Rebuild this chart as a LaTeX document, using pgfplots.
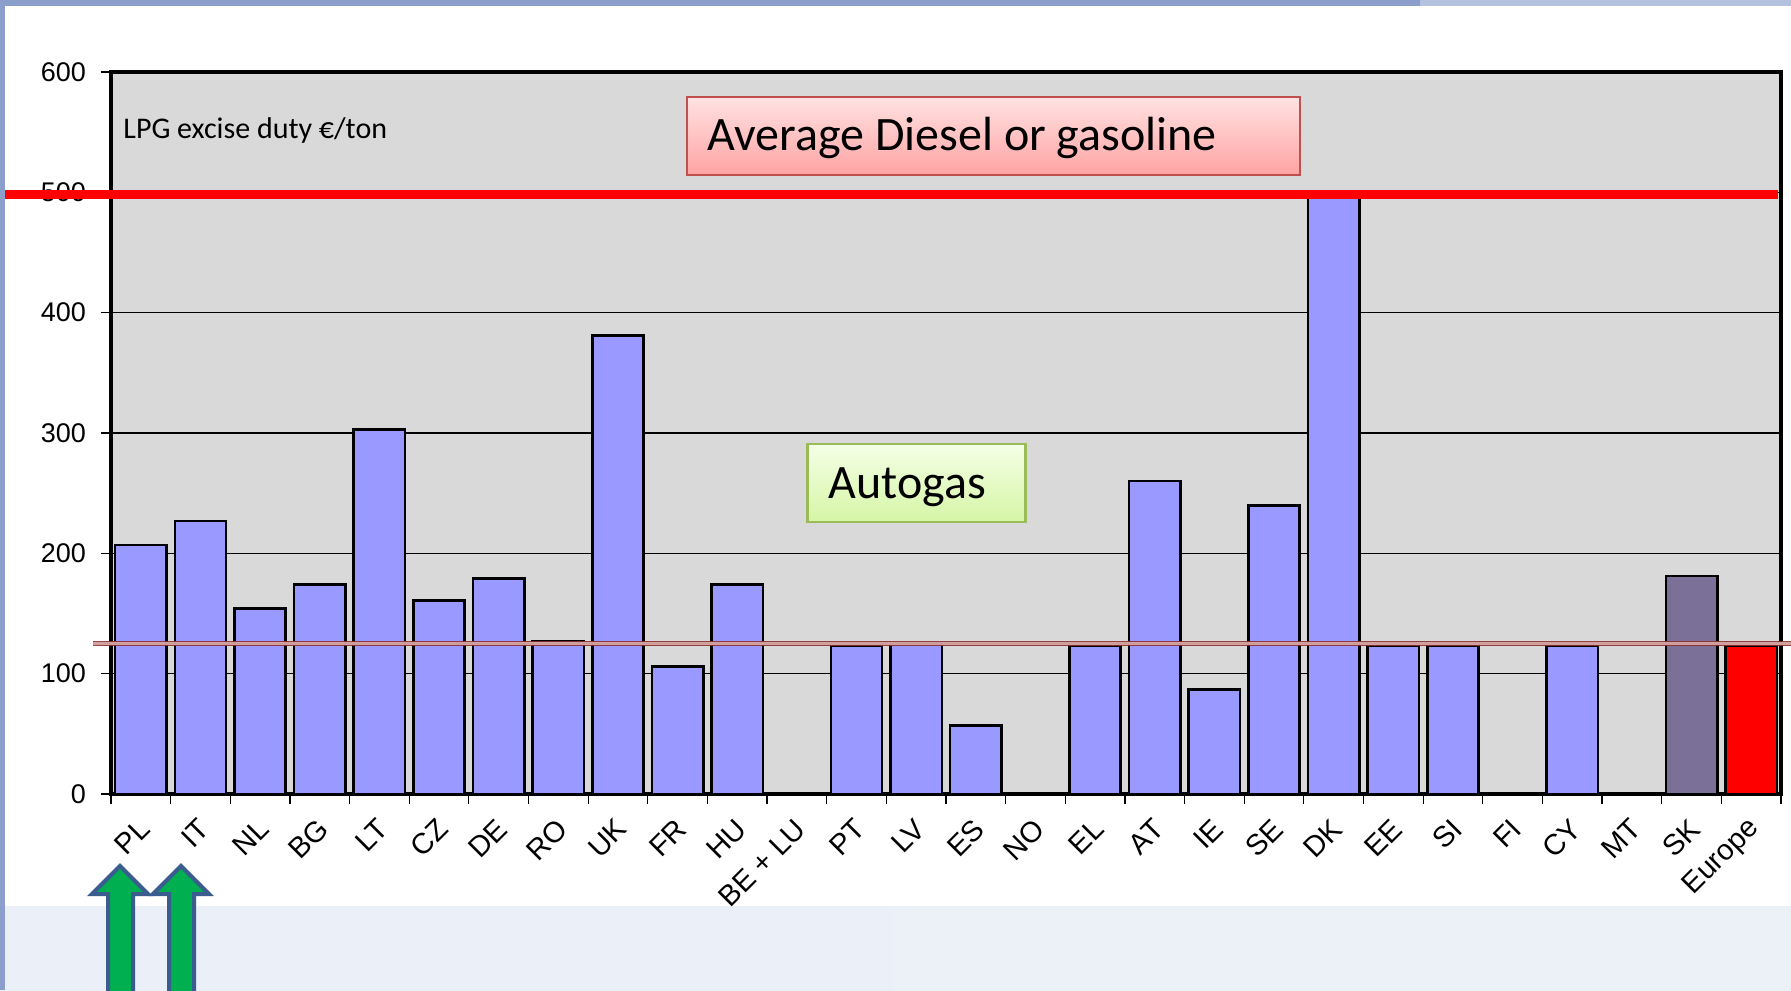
\documentclass[border=0pt]{standalone}
\usepackage{fontspec}
\setmainfont{Liberation Sans}
\newfontfamily\calibri{Carlito}
\usepackage{pgfplots}
\pgfplotsset{compat=1.18}
\usepackage{pgfplotstable}
\definecolor{barblue}{HTML}{9999FF}
\definecolor{plotbg}{HTML}{D9D9D9}
\definecolor{skcol}{HTML}{7B7098}
\definecolor{stripblue}{HTML}{8C9FCC}
\definecolor{stripblue2}{HTML}{B4C2E0}
\definecolor{brownline}{HTML}{8C3030}
\definecolor{pinkmid}{HTML}{D9AAAA}
\definecolor{diesbord}{HTML}{C0504D}
\definecolor{diestop}{HTML}{FFE2E2}
\definecolor{diesbot}{HTML}{FFA3A3}
\definecolor{autobord}{HTML}{9BBB59}
\definecolor{autotop}{HTML}{F4FFE6}
\definecolor{autobot}{HTML}{D6F5A6}
\definecolor{arrowgreen}{HTML}{00B050}
\definecolor{arrowblue}{HTML}{3B5C8F}
\definecolor{bgA}{HTML}{EBF0F8}
\definecolor{bgB}{HTML}{FBFCFE}
\definecolor{bgC}{HTML}{ECF1F8}

\pgfplotstableread{
x y
0 207
1 227
2 154
3 174
4 303
5 161
6 179
7 127
8 381
9 106
10 174
12 123
13 125
14 57
16 123
17 260
18 87
19 240
20 500
21 123
22 123
24 123
}\countrydata
\pgfplotstableread{
x y
26 181
}\skdata
\pgfplotstableread{
x y
27 123
}\europedata

\begin{document}
\begin{tikzpicture}
\useasboundingbox (0,0) rectangle (895.5pt,495pt);
\fill[white] (0,0) rectangle (895.5pt,495pt);
\shade[left color=bgA, middle color=bgB, right color=bgC] (0,0) rectangle (895.5pt,42pt);
\fill[stripblue] (0,0) rectangle (2.5pt,495pt);
\fill[stripblue] (0,492pt) rectangle (710pt,495pt);
\fill[stripblue2] (710pt,492pt) rectangle (895.5pt,495pt);
\begin{axis}[
  at={(55.5pt,98pt)}, anchor=south west,
  scale only axis, width=835pt, height=361pt,
  xmin=-0.5, xmax=27.5, ymin=0, ymax=600,
  axis background/.style={fill=plotbg},
  axis line style={line width=2pt},
  clip=false,
  xtick={-0.5,0.5,...,27.5},
  x tick label as interval,
  xticklabels={PL,IT,NL,BG,LT,CZ,DE,RO,UK,FR,HU,BE + LU,PT,LV,ES,NO,EL,AT,IE,SE,DK,EE,SI,FI,CY,MT,SK,Europe},
  xticklabel style={xshift=2pt, yshift=-10pt, rotate=45, anchor=east, inner sep=0pt, font=\fontsize{14.5}{14.5}\selectfont},
  ytick={0,100,...,600},
  yticklabel style={xshift=-4pt, font=\fontsize{13.5}{13.5}\selectfont, /pgf/number format/assume math mode=true},
  tick align=outside,
  major tick length=5pt,
  tick style={black, line width=0.6pt},
  ymajorgrids,
  grid style={black, line width=0.6pt},
  xtick pos=bottom, ytick pos=left,
]
\addplot[ybar, bar width=0.86, bar shift=0pt, fill=barblue, draw=black, line width=1.3pt] table {\countrydata};
\addplot[ybar, bar width=0.86, bar shift=0pt, fill=skcol, draw=black, line width=1.3pt] table {\skdata};
\addplot[ybar, bar width=0.86, bar shift=0pt, fill=red, draw=black, line width=1.3pt] table {\europedata};
\draw[brownline, line width=0.8pt, double=pinkmid, double distance=1.1pt, opacity=0.9] (axis cs:-0.80,125) -- (axis cs:27.67,125);
\draw[red, line width=4.6pt] (axis cs:-2.277,498) -- (axis cs:27.45,498);
\end{axis}
\shadedraw[top color=diestop, bottom color=diesbot, draw=diesbord, line width=1pt] (343.25pt,407.5pt) rectangle (650pt,446.5pt);
\node[anchor=base west, inner sep=0pt, font=\calibri\fontsize{24}{24}\selectfont] at (353.5pt,419.5pt) {Average Diesel or gasoline};
\shadedraw[top color=autotop, bottom color=autobot, draw=autobord, line width=1.2pt] (403.8pt,234.1pt) rectangle (512.8pt,273pt);
\node[anchor=base west, inner sep=0pt, font=\calibri\fontsize{24}{24}\selectfont] at (414.2pt,245.8pt) {Autogas};
\node[anchor=base west, inner sep=0pt, font=\calibri\fontsize{15}{15}\selectfont] at (61.5pt,425.5pt) {LPG excise duty €/ton};
\foreach \dx in {0pt,30.5pt}{
\filldraw[xshift=\dx, fill=arrowgreen, draw=arrowblue, line width=2pt, line join=miter]
  (60pt,62pt) -- (74pt,48pt) -- (66.5pt,48pt) -- (66.5pt,-5pt) -- (54pt,-5pt) -- (54pt,48pt) -- (46pt,48pt) -- cycle;
}
\end{tikzpicture}
\end{document}
